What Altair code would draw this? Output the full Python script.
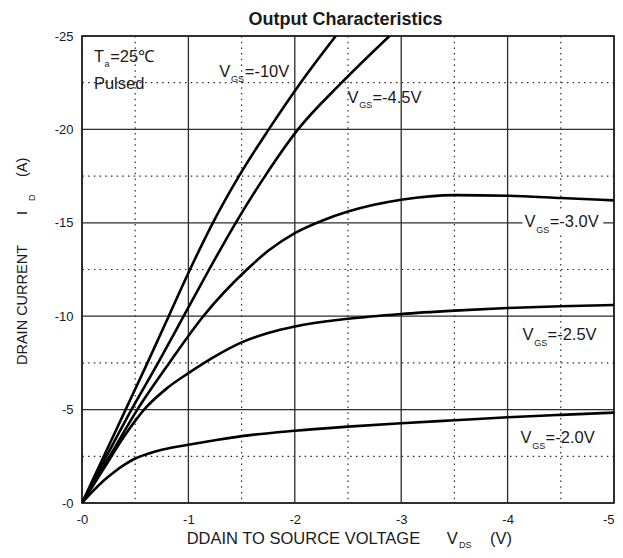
import altair as alt
import pandas as pd

# ---- curve data (VDS in V, ID in A) ----
vds_10 = [0, -0.205, -0.41, -0.615, -0.815, -1.015, -1.23, -1.475, -1.755, -2.055, -2.385]
id_10 = [0, -2.5, -5, -7.5, -10, -12.5, -15, -17.5, -20, -22.5, -25]

vds_45 = [0, -0.23, -0.465, -0.715, -0.955, -1.195, -1.445, -1.72, -2.03, -2.44, -2.89]
id_45 = [0, -2.5, -5, -7.5, -10, -12.5, -15, -17.5, -20, -22.5, -25]

vds_30 = [0, -0.26, -0.52, -0.82, -1.14, -1.55, -1.75, -2.0, -2.25, -2.5, -3.0, -3.5, -4.0, -4.5, -5.0]
id_30 = [0, -2.5, -5.0, -7.5, -10.0, -12.5, -13.5, -14.45, -15.1, -15.6, -16.23, -16.48, -16.45, -16.33, -16.2]

vds_25 = [0, -0.2, -0.4, -0.6, -0.8, -1.0, -1.25, -1.5, -1.75, -2.0, -2.5, -3.0, -3.5, -4.0, -4.5, -5.0]
id_25 = [0, -1.8, -3.6, -5.1, -6.15, -6.95, -7.85, -8.6, -9.1, -9.45, -9.86, -10.12, -10.3, -10.44, -10.53, -10.6]

vds_20 = [0, -0.1, -0.2, -0.3, -0.4, -0.5, -0.6, -0.75, -1.0, -1.25, -1.5, -2.0, -2.5, -3.0, -3.5, -4.0, -4.5, -5.0]
id_20 = [0, -0.62, -1.18, -1.65, -2.05, -2.38, -2.6, -2.85, -3.12, -3.36, -3.58, -3.87, -4.09, -4.27, -4.43, -4.59, -4.72, -4.84]

curve_names = ["-10V", "-4.5V", "-3.0V", "-2.5V", "-2.0V"]
curve_vds = [vds_10, vds_45, vds_30, vds_25, vds_20]
curve_id = [id_10, id_45, id_30, id_25, id_20]

# ---- grid / ticks ----
x_major = [0, -1, -2, -3, -4, -5]
x_minor = [-0.5, -1.5, -2.5, -3.5, -4.5]
y_major = [0, -5, -10, -15, -20, -25]
y_minor = [-2.5, -7.5, -12.5, -17.5, -22.5]

# ---- annotations (data coordinates) ----
ann_text = ["T", "=25℃", "Pulsed", "V", "=-10V", "V", "=-4.5V", "V", "=-3.0V", "V", "=-2.5V", "V", "=-2.0V"]
ann_vds = [-0.112, -0.265, -0.112, -1.290, -1.530, -2.495, -2.730, -4.159, -4.395, -4.140, -4.375, -4.121, -4.357]
ann_id = [-23.61, -23.61, -22.16, -22.81, -22.81, -21.41, -21.41, -14.78, -14.78, -8.73, -8.73, -3.21, -3.21]

sub_text = ["a", "GS", "GS", "GS", "GS", "GS"]
sub_vds = [-0.212, -1.400, -2.605, -4.270, -4.250, -4.232]
sub_id = [-23.34, -22.54, -21.15, -14.45, -8.40, -2.89]

# white box behind the VGS=-3.0V label
box_vds = [-4.14]
box_vds2 = [-4.90]
box_id = [-14.35]
box_id2 = [-15.59]

rows = []
for name, vs, ids in zip(curve_names, curve_vds, curve_id):
    for k, (v, i) in enumerate(zip(vs, ids)):
        rows.append({"vgs": name, "vds": v, "id": i, "idx": k})
df = pd.DataFrame(rows)

W, H = 532, 467
FONT = "Liberation Sans"
INK = "#1a1a1a"
grid_col = "#2b2b2b"

xscale = alt.Scale(domain=[0, -5], nice=False, zero=False)
yscale = alt.Scale(domain=[0, -25], nice=False, zero=False)
LABEL_EXPR = "'-' + format(abs(datum.value), 'd')"
xaxis = alt.Axis(
    values=x_major, labelExpr=LABEL_EXPR, grid=False, ticks=False, tickSize=0,
    domain=False, labelPadding=10, labelFont=FONT, labelFontSize=13,
    labelColor=INK, title=None, labelFlush=False, labelOverlap=False,
    labelAlign=alt.condition("datum.value == -5", alt.value("right"), alt.value("center")),
)
yaxis = alt.Axis(
    values=y_major, labelExpr=LABEL_EXPR, grid=False, ticks=False, tickSize=0,
    domain=False, labelPadding=9, labelFont=FONT, labelFontSize=13,
    labelColor=INK, title=None, labelFlush=False, labelOverlap=False,
)


def X(field):
    return alt.X(field, scale=xscale, axis=xaxis)


def Y(field):
    return alt.Y(field, scale=yscale, axis=yaxis)


vminor = alt.Chart(pd.DataFrame({"vds": x_minor})).mark_rule(
    color=grid_col, strokeWidth=1.2, strokeDash=[1.5, 4.2]
).encode(x=X("vds:Q"))

hminor = alt.Chart(pd.DataFrame({"id": y_minor})).mark_rule(
    color=grid_col, strokeWidth=1.2, strokeDash=[1.5, 4.2]
).encode(y=Y("id:Q"))

vmajor = alt.Chart(pd.DataFrame({"vds": x_major})).mark_rule(
    color=grid_col, strokeWidth=1.3
).encode(x=X("vds:Q"))

hmajor = alt.Chart(pd.DataFrame({"id": y_major})).mark_rule(
    color=grid_col, strokeWidth=1.3
).encode(y=Y("id:Q"))

box = alt.Chart(pd.DataFrame({"vds": box_vds, "x2": box_vds2, "id": box_id, "y2": box_id2})).mark_rect(
    color="white"
).encode(x=X("vds:Q"), x2="x2:Q", y=Y("id:Q"), y2="y2:Q")

curves = alt.Chart(df).mark_line(
    interpolate="monotone", color="black", strokeWidth=2.6, clip=True
).encode(x=X("vds:Q"), y=Y("id:Q"), detail="vgs:N", order="idx:Q")

ann = alt.Chart(pd.DataFrame({"t": ann_text, "vds": ann_vds, "id": ann_id})).mark_text(
    align="left", baseline="alphabetic", font=FONT, fontSize=16.5, color=INK
).encode(x=X("vds:Q"), y=Y("id:Q"), text="t:N")

sub = alt.Chart(pd.DataFrame({"t": sub_text, "vds": sub_vds, "id": sub_id})).mark_text(
    align="left", baseline="alphabetic", font=FONT, fontSize=9, color=INK
).encode(x=X("vds:Q"), y=Y("id:Q"), text="t:N")


# ---- title and axis titles (outside the plot, pixel placement) ----
def label(text, px, py, size, angle=0, weight="normal", align="left"):
    kw = dict(align=align, baseline="alphabetic", font=FONT, fontSize=size,
              color=INK, fontWeight=weight)
    if angle:
        kw["angle"] = angle
    return alt.Chart(pd.DataFrame({"t": [text]})).mark_text(**kw).encode(
        x=alt.value(px), y=alt.value(py), text="t:N"
    )


title = label("Output Characteristics", 263.5, -11.5, 18, weight="bold", align="center")
xt1 = label("DDAIN TO SOURCE VOLTAGE", 104.7, 508, 16.5)
xt2 = label("V", 364.7, 508, 16.5)
xt3 = label("DS", 377, 512, 9)
xt4 = label("(V)", 408, 508, 16.5)
yt1 = label("DRAIN CURRENT", -55, 329, 14.5, angle=270)
yt2 = label("I", -55, 179, 14.5, angle=270)
yt3 = label("D", -47, 165, 9, angle=270)
yt4 = label("(A)", -55, 141, 14.5, angle=270)

chart = alt.layer(
    vminor, hminor, vmajor, hmajor, box, curves, ann, sub,
    title, xt1, xt2, xt3, xt4, yt1, yt2, yt3, yt4,
).properties(
    width=W, height=H,
    autosize=alt.AutoSizeParams(type="none"),
    padding={"left": 74, "top": 28, "right": 1, "bottom": 47},
    background="white",
).configure_view(stroke="black", strokeWidth=1.6)

chart.save("out.html", embed_options={"renderer": "svg", "actions": False})
